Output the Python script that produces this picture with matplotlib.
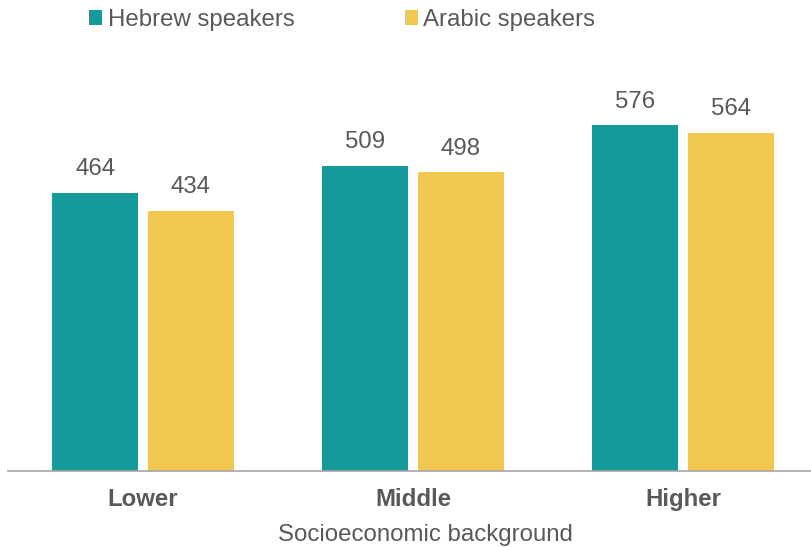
import matplotlib.pyplot as plt
import numpy as np

plt.rcParams['font.family'] = ['Liberation Sans', 'DejaVu Sans']

groups = ['Lower', 'Middle', 'Higher']
hebrew = [464, 509, 576]
arabic = [434, 498, 564]
series_names = ['Hebrew speakers', 'Arabic speakers']

teal = '#159A9C'
gold = '#F2C74F'
grey = '#595959'
fs = 17.3

fig = plt.figure(figsize=(8.11, 5.47), dpi=100)
ax = fig.add_axes([8 / 811, 76 / 547, 810 / 811, 420 / 547])

x = np.arange(len(groups))
w = 0.3185
b1 = ax.bar(x - 0.177, hebrew, w, color=teal, label=series_names[0])
b2 = ax.bar(x + 0.177, arabic, w, color=gold, label=series_names[1])

for bars, vals in [(b1, hebrew), (b2, arabic)]:
    for r, v in zip(bars, vals):
        ax.annotate(str(v), (r.get_x() + r.get_width() / 2, v),
                    xytext=(0, 9), textcoords='offset points',
                    ha='center', va='bottom', fontsize=fs, color=grey)

ax.set_xlim(-0.5, 2.5)
ax.set_ylim(0, 700)
ax.set_yticks([])
for s in ['top', 'right', 'left']:
    ax.spines[s].set_visible(False)
ax.spines['bottom'].set_color('#A6A6A6')
ax.spines['bottom'].set_linewidth(1.2)

ax.set_xticks(x)
ax.set_xticklabels(groups, fontsize=fs, fontweight='bold', color=grey)
ax.tick_params(axis='x', length=0, pad=12)
ax.set_xlabel('Socioeconomic background', fontsize=fs, color=grey)
ax.xaxis.set_label_coords(0.515, -0.127)

fig.legend(handles=[b1, b2], labels=series_names, loc='center left',
           bbox_to_anchor=(89 / 811, 1 - 20 / 547), ncol=2, frameon=False,
           fontsize=fs, labelcolor=grey, handlelength=0.55, handleheight=0.55,
           handletextpad=0.22, columnspacing=4.6, borderpad=0, borderaxespad=0)

fig.savefig('out.png', dpi=100)
